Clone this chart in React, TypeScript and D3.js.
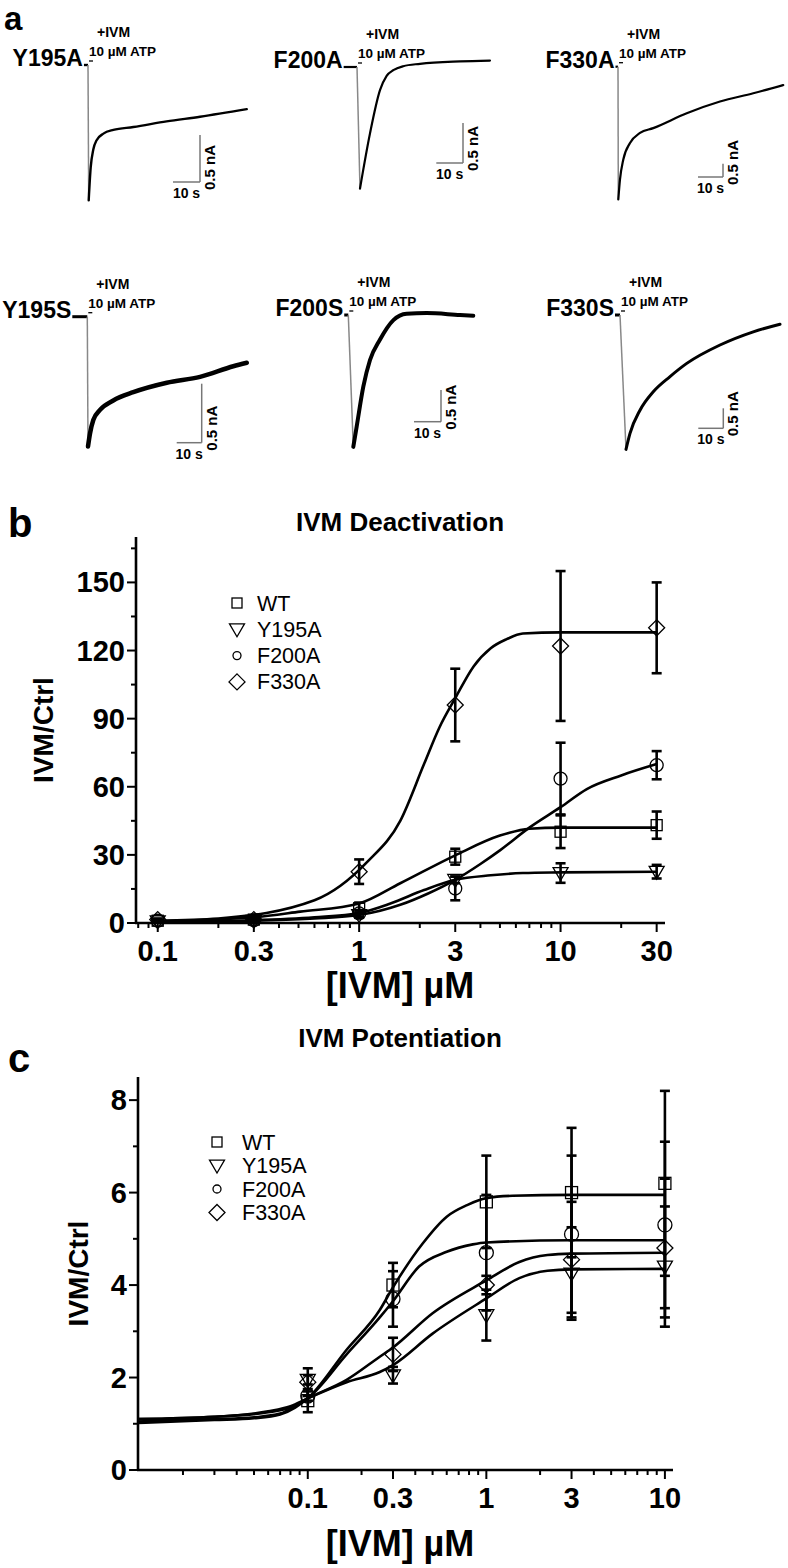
import React from 'react';
import * as d3 from 'd3';

const FONT = '"Liberation Sans", Arial, Helvetica, sans-serif';

// ---------------- Panel a: current traces  [time (s), current (nA)] ----------------
const traceY195A: [number, number][] = [[-1.5, 0], [0, 0], [0.26, -1.44], [1.0, -1.09], [1.96, -0.9], [3.2, -0.8], [5.7, -0.73], [9.4, -0.69], [16.8, -0.66], [29.1, -0.6], [41.5, -0.55], [58.8, -0.47]];
const traceF200A: [number, number][] = [[-5, 0], [0, 0], [1.12, -1.52], [4.87, -0.83], [8.61, -0.29], [11.1, -0.11], [13.6, -0.04], [17.3, 0.01], [23.6, 0.04], [38.6, 0.07], [49.8, 0.08]];
const traceF330A: [number, number][] = [[-1, 0], [0, 0], [0.12, -4.99], [0.8, -4.24], [2.12, -3.49], [4.8, -2.87], [8.8, -2.49], [14.1, -2.31], [27.5, -1.75], [40.8, -1.31], [54.1, -1.0], [66.1, -0.69]];
const traceY195S: [number, number][] = [[-6, 0], [0, 0], [0.28, -1.1], [1.08, -0.99], [2.4, -0.875], [5.08, -0.79], [10.4, -0.71], [18.4, -0.64], [31.8, -0.56], [45.1, -0.51], [58.4, -0.42], [63.8, -0.39]];
const traceF200S: [number, number][] = [[-1.5, 0], [0, 0], [1.85, -2.08], [3.1, -1.76], [5.56, -1.13], [8.04, -0.71], [11.7, -0.39], [16.7, -0.08], [21.6, 0.02], [29.0, 0.03], [41.4, 0.0], [46.3, -0.01]];
const traceF330S: [number, number][] = [[-2, 0], [0, 0], [2.4, -3.36], [4.0, -2.96], [8.0, -2.38], [13.3, -1.92], [20, -1.54], [26.7, -1.21], [40, -0.75], [53.3, -0.42], [64, -0.23]];

const miniPanels = [
  { label: 'Y195A', trace: traceY195A, x0: 88, y0: 65, px10s: 27, pxHalfNA: 47, bar: [200, 182], sw: 2.4 },
  { label: 'F200A', trace: traceF200A, x0: 357, y0: 67, px10s: 26.7, pxHalfNA: 40, bar: [463, 163], sw: 2.2 },
  { label: 'F330A', trace: traceF330A, x0: 618, y0: 66.7, px10s: 25, pxHalfNA: 13.3, bar: [723, 177], sw: 2.2 },
  { label: 'Y195S', trace: traceY195S, x0: 87.3, y0: 316.7, px10s: 25, pxHalfNA: 59, bar: [201.7, 442.7], sw: 4.5 },
  { label: 'F200S', trace: traceF200S, x0: 348.3, y0: 315, px10s: 27, pxHalfNA: 31.7, bar: [441, 421.7], sw: 4 },
  { label: 'F330S', trace: traceF330S, x0: 620, y0: 315, px10s: 25, pxHalfNA: 20, bar: [723.3, 428.3], sw: 3 },
];

// ---------------- Panel b: IVM deactivation ----------------
const concB = [0.1, 0.3, 1, 3, 10, 30];
const wtB = [1, 1.5, 6.5, 29.2, 40.2, 43.1];
const wtBErr = [0.5, 0.5, 2.5, 3.5, 7.2, 6];
const y195aB = [0.8, 1, 3.5, 19, 22, 22.6];
const y195aBErr = [0.3, 0.3, 1.2, 1.5, 4.3, 3];
const f200aB = [1, 1.2, 4.2, 15.2, 63.6, 69.5];
const f200aBErr = [0.3, 0.5, 1.5, 5.2, 15.8, 6.2];
const f330aB = [1.5, 1.5, 22.6, 96, 122, 130];
const f330aBErr = [0.5, 1, 5.4, 16, 33, 20];

const fitWtB: [number, number][] = [[0.1, 0.8], [0.3, 2.5], [0.51, 5], [1, 8.6], [1.6, 17.5], [3, 29.8], [5, 38.5], [7, 41.5], [10, 42], [30, 42]];
const fitY195aB: [number, number][] = [[0.1, 0.5], [0.3, 1.2], [0.6, 2.5], [1, 4.4], [1.43, 8.6], [2.1, 14.5], [3, 19], [4.5, 21], [6.5, 22], [10, 22.3], [30, 22.6]];
const fitF200aB: [number, number][] = [[0.1, 0.3], [0.3, 1], [0.6, 2], [1, 3.5], [1.6, 8], [2.2, 13], [3, 19], [4, 26], [5, 32], [7, 42], [10, 51], [13.5, 59], [20, 65], [30, 70]];
const fitF330aB: [number, number][] = [[0.1, 1], [0.2, 2], [0.6, 10], [1.1, 27], [1.6, 45], [2.1, 70], [2.5, 86], [3, 99], [3.7, 113], [4.5, 121], [5.4, 125], [6.5, 127.5], [10, 128], [30, 128]];

const xTicksB = [0.1, 0.3, 1, 3, 10, 30];
const yTicksB = [0, 30, 60, 90, 120, 150];
const yMinorB = [15, 45, 75, 105, 135, 165];

// ---------------- Panel c: IVM potentiation ----------------
const concC = [0.1, 0.3, 1, 3, 10];
const wtC = [1.5, 4.0, 5.8, 6.0, 6.2];
const wtCErr = [0.25, 0.48, 1.0, 1.4, 2.0];
const y195aC = [1.95, 2.05, 3.35, 4.25, 4.4];
const y195aCErr = [0.1, 0.18, 0.55, 1.0, 1.3];
const f200aC = [1.6, 3.7, 4.7, 5.1, 5.3];
const f200aCErr = [0.1, 0.6, 1.25, 1.7, 1.8];
const f330aC = [1.9, 2.5, 4.0, 4.55, 4.8];
const f330aCErr = [0.3, 0.36, 0.2, 1.25, 1.5];

const fitWtC: [number, number][] = [[0.0112, 1.02], [0.03, 1.08], [0.05, 1.12], [0.07, 1.2], [0.085, 1.35], [0.1, 1.55], [0.165, 2.6], [0.253, 3.46], [0.3, 3.95], [0.44, 4.9], [0.6, 5.48], [0.78, 5.73], [1, 5.88], [1.4, 5.93], [3, 5.95], [10, 5.95]];
const fitF200aC: [number, number][] = [[0.0112, 1.05], [0.03, 1.1], [0.05, 1.14], [0.07, 1.22], [0.085, 1.38], [0.1, 1.55], [0.165, 2.5], [0.253, 3.3], [0.3, 3.65], [0.42, 4.4], [0.6, 4.72], [0.84, 4.88], [1, 4.92], [3, 4.97], [10, 4.97]];
const fitF330aC: [number, number][] = [[0.0112, 1.1], [0.03, 1.15], [0.06, 1.25], [0.08, 1.35], [0.1, 1.55], [0.165, 1.95], [0.253, 2.45], [0.3, 2.65], [0.5, 3.39], [1, 4.1], [1.53, 4.5], [2.2, 4.65], [3, 4.68], [10, 4.7]];
const fitY195aC: [number, number][] = [[0.0112, 1.1], [0.03, 1.15], [0.06, 1.27], [0.08, 1.38], [0.1, 1.55], [0.165, 1.9], [0.253, 2.12], [0.3, 2.27], [0.5, 2.95], [1, 3.71], [1.53, 4.15], [2.2, 4.31], [3, 4.34], [10, 4.35]];

const xTicksC = [0.1, 0.3, 1, 3, 10];
const yTicksC = [0, 2, 4, 6, 8];
const yMinorC = [1, 3, 5, 7];

const legendNames = ['WT', 'Y195A', 'F200A', 'F330A'];
const shapes = ['square', 'triangle', 'circle', 'diamond'];

function marker(shape: string, cx: number, cy: number, s: number, key: string, sw = 1.3) {
  const common = { fill: 'none', stroke: '#000', strokeWidth: sw, key };
  if (shape === 'square') return <rect {...common} x={cx - s / 2} y={cy - s / 2} width={s} height={s} />;
  if (shape === 'circle') return <circle {...common} cx={cx} cy={cy} r={s / 2} />;
  if (shape === 'triangle')
    return <path {...common} d={`M${cx - s / 2},${cy - s * 0.36}L${cx + s / 2},${cy - s * 0.36}L${cx},${cy + s * 0.5}Z`} />;
  return <path {...common} d={`M${cx},${cy - s / 2}L${cx + s / 2},${cy}L${cx},${cy + s / 2}L${cx - s / 2},${cy}Z`} />;
}

function MiniTrace({ p }: { p: any }) {
  const xs = d3.scaleLinear().domain([0, 10]).range([p.x0, p.x0 + p.px10s]);
  const ys = d3.scaleLinear().domain([0, -0.5]).range([p.y0, p.y0 + p.pxHalfNA]);
  const lin = d3.line<[number, number]>().x((d) => xs(d[0])).y((d) => ys(d[1]));
  const smooth = d3.line<[number, number]>().x((d) => xs(d[0])).y((d) => ys(d[1])).curve(d3.curveMonotoneX);
  const base = lin(p.trace.slice(0, 2)) || '';
  const drop = lin(p.trace.slice(1, 3)) || '';
  const rest = smooth(p.trace.slice(2)) || '';
  const [cx, cy] = p.bar;
  const hl = xs(10) - xs(0);
  const vl = ys(-0.5) - ys(0);
  return (
    <g>
      <text x={xs(p.trace[0][0]) - 1} y={p.y0 + 1} textAnchor="end" fontSize={23} fontWeight="bold">{p.label}</text>
      <text x={p.x0 + 9} y={p.y0 - 28} fontSize={14} fontWeight="bold">+IVM</text>
      <text x={p.x0 + 1} y={p.y0 - 9} fontSize={13.5} fontWeight="bold">10 µM ATP</text>
      <line x1={p.x0 + 1} x2={p.x0 + 5} y1={p.y0 - 4} y2={p.y0 - 4} stroke="#000" strokeWidth={1.3} />
      <path d={base} fill="none" stroke="#000" strokeWidth={Math.min(p.sw, 3)} />
      <path d={drop} fill="none" stroke="#888" strokeWidth={1.5} />
      <path d={rest} fill="none" stroke="#000" strokeWidth={p.sw} strokeLinejoin="round" strokeLinecap="round" />
      <line x1={cx - hl} x2={cx} y1={cy} y2={cy} stroke="#777" strokeWidth={1.5} />
      <line x1={cx} x2={cx} y1={cy} y2={cy - vl} stroke="#777" strokeWidth={1.5} />
      <text x={cx - hl / 2} y={cy + 16} textAnchor="middle" fontSize={14} fontWeight="bold">10 s</text>
      <text transform={`translate(${cx + 15},${cy + 8}) rotate(-90)`} fontSize={15} fontWeight="bold">0.5 nA</text>
    </g>
  );
}

function DosePanel(cfg: any) {
  const { xs, ys, x0, x1, yTop, yBot, xTicks, yTicks, yMinor, series, fits, title, titleY, letter, letterY,
    yLabelX, xLabelY, legendX, legendTextX, legendY, legendStep, mSize, lSize, capW } = cfg;
  const line = d3.line<[number, number]>().x((d) => xs(d[0])).y((d) => ys(d[1])).curve(d3.curveMonotoneX);
  const allX = xs.ticks();
  const isMajor = (v: number) => xTicks.some((t: number) => Math.abs(t - v) / t < 1e-6);
  return (
    <g>
      <text x={8} y={letterY} fontSize={40} fontWeight="bold">{letter}</text>
      <text x={400} y={titleY} textAnchor="middle" fontSize={26} fontWeight="bold">{title}</text>
      {/* axes */}
      <line x1={x0} x2={x0} y1={yTop} y2={yBot + 1} stroke="#000" strokeWidth={2.6} />
      <line x1={x0 - 1} x2={x1} y1={yBot} y2={yBot} stroke="#000" strokeWidth={2.6} />
      {yTicks.map((v: number) => (
        <g key={'yt' + v}>
          <line x1={x0 - 9} x2={x0} y1={ys(v)} y2={ys(v)} stroke="#000" strokeWidth={2} />
          <text x={x0 - 11} y={ys(v) + 10} textAnchor="end" fontSize={29} fontWeight="bold">{v}</text>
        </g>
      ))}
      {yMinor.map((v: number) => (
        <line key={'ym' + v} x1={x0 - 5} x2={x0} y1={ys(v)} y2={ys(v)} stroke="#000" strokeWidth={2} />
      ))}
      {allX.filter((v: number) => !isMajor(v)).map((v: number, i: number) => (
        <line key={'xm' + i} x1={xs(v)} x2={xs(v)} y1={yBot} y2={yBot + 5} stroke="#000" strokeWidth={2} />
      ))}
      {xTicks.map((v: number) => (
        <g key={'xt' + v}>
          <line x1={xs(v)} x2={xs(v)} y1={yBot} y2={yBot + 9} stroke="#000" strokeWidth={2} />
          <text x={xs(v)} y={yBot + 38} textAnchor="middle" fontSize={29} fontWeight="bold">{String(v)}</text>
        </g>
      ))}
      <text transform={`translate(${yLabelX},${(yTop + yBot) / 2}) rotate(-90)`} textAnchor="middle" fontSize={28} fontWeight="bold">IVM/Ctrl</text>
      <text x={400} y={xLabelY} textAnchor="middle" fontSize={36} fontWeight="bold">[IVM] µM</text>
      {/* fits */}
      {fits.map((f: [number, number][], i: number) => (
        <path key={'f' + i} d={line(f) || ''} fill="none" stroke="#000" strokeWidth={2.6} />
      ))}
      {/* error bars & markers */}
      {series.map((s: any, si: number) => (
        <g key={'s' + si}>
          {s.x.map((xv: number, i: number) => {
            const cx = xs(xv);
            const top = ys(s.y[i] + s.e[i]);
            const bot = ys(Math.max(0, s.y[i] - s.e[i]));
            return (
              <g key={'e' + i}>
                <line x1={cx} x2={cx} y1={top} y2={bot} stroke="#000" strokeWidth={2.6} />
                <line x1={cx - capW} x2={cx + capW} y1={top} y2={top} stroke="#000" strokeWidth={2.6} />
                <line x1={cx - capW} x2={cx + capW} y1={bot} y2={bot} stroke="#000" strokeWidth={2.6} />
              </g>
            );
          })}
          {s.x.map((xv: number, i: number) => marker(shapes[si], xs(xv), ys(s.y[i]), mSize[si], 'm' + i))}
        </g>
      ))}
      {/* legend */}
      {legendNames.map((n, i) => (
        <g key={'l' + n}>
          {marker(shapes[i], legendX, legendY + i * legendStep, lSize[i], 'lm')}
          <text x={legendTextX} y={legendY + i * legendStep + 7.5} fontSize={21.5}>{n}</text>
        </g>
      ))}
    </g>
  );
}

export default function App() {
  const xB = d3.scaleLog().domain([0.078, 33]).range([136, 665]);
  const yB = d3.scaleLinear().domain([0, 170]).range([923, 537]);
  const xC = d3.scaleLog().domain([0.0112, 11.1]).range([138, 673]);
  const yC = d3.scaleLinear().domain([0, 8.5]).range([1470, 1077]);

  const seriesB = [
    { x: concB, y: wtB, e: wtBErr },
    { x: concB, y: y195aB, e: y195aBErr },
    { x: concB, y: f200aB, e: f200aBErr },
    { x: concB, y: f330aB, e: f330aBErr },
  ];
  const seriesC = [
    { x: concC, y: wtC, e: wtCErr },
    { x: concC, y: y195aC, e: y195aCErr },
    { x: concC, y: f200aC, e: f200aCErr },
    { x: concC, y: f330aC, e: f330aCErr },
  ];

  return (
    <svg width={788} height={1568} style={{ position: 'absolute', left: 0, top: 0, background: '#fff' }}
      fontFamily={FONT}>
      <rect x={0} y={0} width={788} height={1568} fill="#fff" />
      <text x={4} y={30} fontSize={33} fontWeight="bold">a</text>
      {miniPanels.map((p) => <MiniTrace key={p.label} p={p} />)}
      <DosePanel xs={xB} ys={yB} x0={136} x1={665} yTop={537} yBot={923}
        xTicks={xTicksB} yTicks={yTicksB} yMinor={yMinorB} series={seriesB}
        fits={[fitWtB, fitY195aB, fitF200aB, fitF330aB]}
        title="IVM Deactivation" titleY={531} letter="b" letterY={537}
        yLabelX={53} xLabelY={998} legendX={237} legendTextX={257} legendY={603} legendStep={26.3}
        mSize={[11, 15, 13, 16]} lSize={[10, 15, 8, 16]} capW={5} />
      <DosePanel xs={xC} ys={yC} x0={138} x1={673} yTop={1077} yBot={1470}
        xTicks={xTicksC} yTicks={yTicksC} yMinor={yMinorC} series={seriesC}
        fits={[fitWtC, fitY195aC, fitF200aC, fitF330aC]}
        title="IVM Potentiation" titleY={1047} letter="c" letterY={1072}
        yLabelX={88} xLabelY={1556} legendX={217} legendTextX={242} legendY={1142} legendStep={23.5}
        mSize={[12, 15, 14, 16]} lSize={[10, 15, 8, 16]} capW={5} />
    </svg>
  );
}
